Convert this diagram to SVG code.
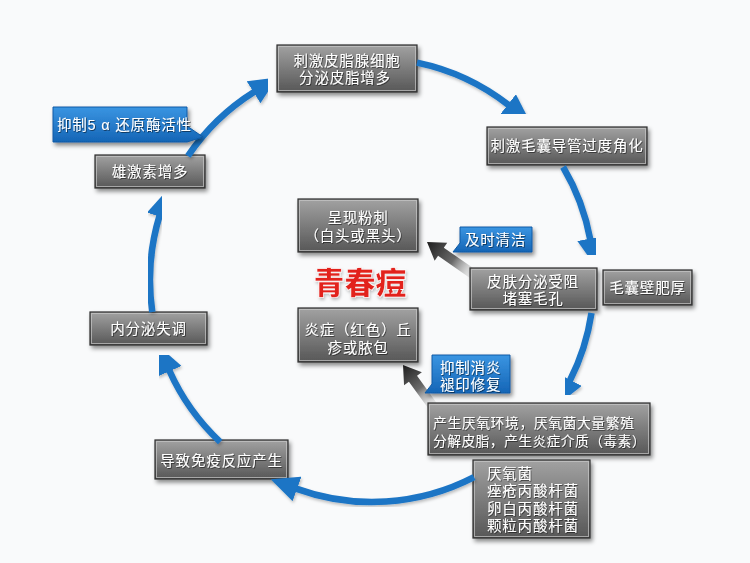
<svg xmlns="http://www.w3.org/2000/svg" width="750" height="563" viewBox="0 0 750 563">
<defs>
<style>
.box{fill:url(#gbox);stroke:#2e2e2e;stroke-width:1.2;filter:url(#sh)}
.hl{fill:none;stroke:#c8c8c8;stroke-width:1;opacity:.7}
.t{font-family:"Liberation Sans","Noto Sans CJK SC",sans-serif;font-size:14.5px;letter-spacing:0.8px;fill:#fff;filter:url(#ts)}
.c{text-anchor:middle}
.call{fill:url(#gblue);stroke:#0f5aa5;stroke-width:1;filter:url(#sh)}
.arc{fill:none;stroke:#1b74c5;stroke-width:6.5;marker-end:url(#ah);filter:url(#sh2)}
</style>
<linearGradient id="gbox" x1="0" y1="0" x2="0" y2="1">
<stop offset="0" stop-color="#a2a2a2"/>
<stop offset="0.5" stop-color="#7c7c7c"/>
<stop offset="1" stop-color="#575757"/>
</linearGradient>
<linearGradient id="gblue" x1="0" y1="0" x2="0" y2="1">
<stop offset="0" stop-color="#3a95e2"/>
<stop offset="1" stop-color="#1565b6"/>
</linearGradient>
<linearGradient id="gdark" x1="0" y1="0" x2="1" y2="0">
<stop offset="0" stop-color="#1e1e1e"/>
<stop offset="0.55" stop-color="#6a6a6a"/>
<stop offset="1" stop-color="#dcdcdc" stop-opacity="0.3"/>
</linearGradient>
<filter id="sh" x="-20%" y="-20%" width="150%" height="160%">
<feDropShadow dx="2" dy="3" stdDeviation="2" flood-color="#000" flood-opacity="0.45"/>
</filter>
<filter id="sh2" x="-20%" y="-20%" width="140%" height="140%">
<feDropShadow dx="1" dy="2" stdDeviation="1.5" flood-color="#000" flood-opacity="0.25"/>
</filter>
<filter id="ts" x="-10%" y="-30%" width="120%" height="160%">
<feDropShadow dx="0.8" dy="0.8" stdDeviation="0.6" flood-color="#000" flood-opacity="0.6"/>
</filter>
<marker id="ah" markerUnits="userSpaceOnUse" viewBox="0 0 28 26" markerWidth="28" markerHeight="26" refX="1" refY="13" orient="auto">
<path d="M0,0 L28,13 L0,26 Z" fill="#1b74c5"/>
</marker>
</defs>
<rect width="750" height="563" fill="#f9fafb"/>

<g id="dark-arrow-1" transform="translate(427,242) rotate(34.9)">
<polygon points="0,0 17,-11 17,-5 58,-5 58,5 17,5 17,11" fill="url(#gdark)"/>
</g>
<g id="dark-arrow-2" transform="translate(403,365) rotate(54.1)">
<polygon points="0,0 17,-11 17,-5 52,-5 52,5 17,5 17,11" fill="url(#gdark)"/>
</g>

<g id="n1"><rect class="box" x="277" y="45" width="140" height="47"/><rect class="hl" x="278.5" y="46.5" width="137" height="44"/>
<text class="t c" x="347" y="66">刺激皮脂腺细胞</text><text class="t c" x="345" y="83">分泌皮脂增多</text></g>
<g id="n2"><rect class="box" x="487" y="127" width="160" height="38"/><rect class="hl" x="488.5" y="128.5" width="157" height="35"/>
<text class="t c" x="567" y="150.5">刺激毛囊导管过度角化</text></g>
<g id="n3"><rect class="box" x="470" y="268" width="127" height="42"/><rect class="hl" x="471.5" y="269.5" width="124" height="39"/>
<text class="t c" x="533" y="287">皮肤分泌受阻</text><text class="t c" x="533" y="303.5">堵塞毛孔</text></g>
<g id="n4"><rect class="box" x="603" y="270" width="89" height="35"/><rect class="hl" x="604.5" y="271.5" width="86" height="32"/>
<text class="t c" x="647.5" y="292.5">毛囊壁肥厚</text></g>
<g id="n5"><rect class="box" x="428" y="403" width="222" height="52"/><rect class="hl" x="429.5" y="404.5" width="219" height="49"/>
<text class="t" x="433" y="428" style="font-size:13.8px;letter-spacing:0.6px">产生厌氧环境，厌氧菌大量繁殖</text><text class="t" x="433" y="445.5" style="font-size:13.8px;letter-spacing:0.4px">分解皮脂，产生炎症介质（毒素）</text></g>
<g id="n6"><rect class="box" x="473" y="460" width="117" height="78"/><rect class="hl" x="474.5" y="461.5" width="114" height="75"/>
<text class="t" x="487" y="478.5">厌氧菌</text><text class="t" x="487" y="496">痤疮丙酸杆菌</text><text class="t" x="487" y="513.5">卵白丙酸杆菌</text><text class="t" x="487" y="531">颗粒丙酸杆菌</text></g>
<g id="n7"><rect class="box" x="155" y="440" width="133" height="39"/><rect class="hl" x="156.5" y="441.5" width="130" height="36"/>
<text class="t c" x="221.5" y="466">导致免疫反应产生</text></g>
<g id="n8"><rect class="box" x="90" y="312" width="117" height="33"/><rect class="hl" x="91.5" y="313.5" width="114" height="30"/>
<text class="t c" x="148.5" y="334">内分泌失调</text></g>
<g id="n9"><rect class="box" x="95" y="155" width="110" height="33"/><rect class="hl" x="96.5" y="156.5" width="107" height="30"/>
<text class="t c" x="150" y="177">雄激素增多</text></g>
<g id="n11"><rect class="box" x="298" y="199" width="120" height="53"/><rect class="hl" x="299.5" y="200.5" width="117" height="50"/>
<text class="t c" x="358" y="223">呈现粉刺</text><text class="t c" x="358" y="240.5">（白头或黑头）</text></g>
<g id="n13"><rect class="box" x="298" y="308" width="120" height="54"/><rect class="hl" x="299.5" y="309.5" width="117" height="51"/>
<text class="t c" x="358" y="335">炎症（红色）丘</text><text class="t c" x="358" y="352.5">疹或脓包</text></g>

<g id="title"><text x="360" y="294" text-anchor="middle" font-family="'Noto Sans CJK SC','Noto Sans',sans-serif" font-size="31" font-weight="900" fill="#e2201c" stroke="#fff" stroke-width="0.6" filter="url(#sh2)">青春痘</text></g>

<g id="connectors">
<path class="arc" d="M417,62.6 A222,222 0 0 1 508.7,105.1"/>
<path class="arc" d="M563.1,167 A222,222 0 0 1 590.3,239.6"/>
<path class="arc" d="M591.5,313 A222,222 0 0 1 569.8,380.8"/>
<path class="arc" d="M474,477.2 A222,222 0 0 1 296.1,488.6"/>
<path class="arc" d="M220.2,442 A222,222 0 0 1 169.2,370.3"/>
<path class="arc" d="M152.3,312 A222,222 0 0 1 159.6,215.5"/>
<path class="arc" d="M187.9,156 A222,222 0 0 1 254.4,91.7"/>
</g>

<g id="c1"><path class="call" d="M53,107 H187 V126 L203,137 L187,142 H53 Z"/>
<text class="t" x="57" y="130">抑制5 α 还原酶活性</text></g>
<g id="c2"><path class="call" d="M460,227 H532 V252 H453 L460,243 Z"/>
<text class="t" x="465" y="245">及时清洁</text></g>
<g id="c3"><path class="call" d="M432,355 H510 V393 H425 L432,384 Z"/>
<text class="t" x="440" y="372.5">抑制消炎</text><text class="t" x="440" y="389.5">褪印修复</text></g>
</svg>
